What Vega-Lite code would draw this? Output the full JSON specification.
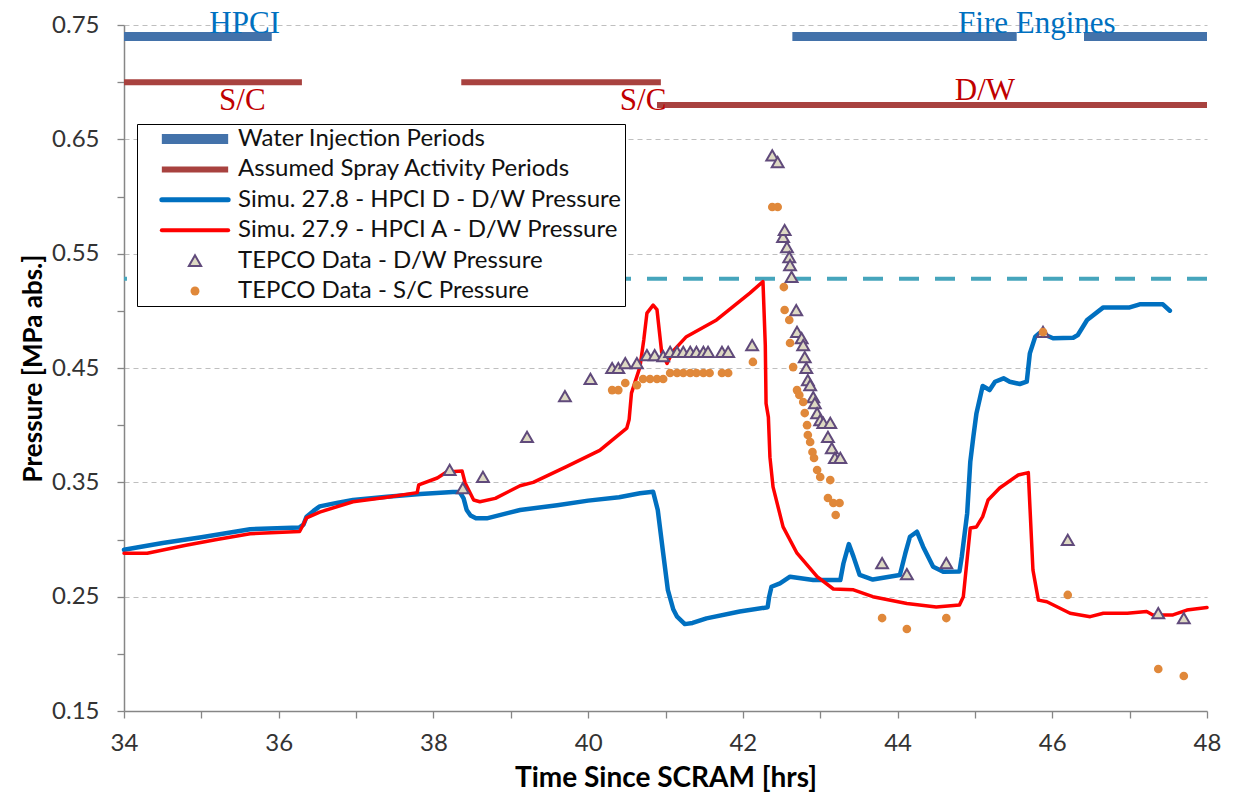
{
  "$schema": "https://vega.github.io/schema/vega-lite/v6.json",
  "width": 1083,
  "height": 686,
  "autosize": {"type": "none"},
  "padding": {"left": 124, "top": 25, "right": 47, "bottom": 88},
  "background": "white",
  "datasets": {
    "periods": [
      {"series": "Water Injection Periods", "t": 34, "t2": 35.91, "p": 0.74},
      {"series": "Water Injection Periods", "t": 42.64, "t2": 45.54, "p": 0.74},
      {"series": "Water Injection Periods", "t": 46.41, "t2": 48, "p": 0.74},
      {"series": "Assumed Spray Activity Periods", "t": 34, "t2": 36.3, "p": 0.70},
      {"series": "Assumed Spray Activity Periods", "t": 38.36, "t2": 40.94, "p": 0.70},
      {"series": "Assumed Spray Activity Periods", "t": 40.89, "t2": 48, "p": 0.68}
    ],
    "sim": [
      {"series": "Simu. 27.8 - HPCI D - D/W Pressure", "t": 34.0, "p": 0.291},
      {"series": "Simu. 27.8 - HPCI D - D/W Pressure", "t": 34.5, "p": 0.297},
      {"series": "Simu. 27.8 - HPCI D - D/W Pressure", "t": 35.0, "p": 0.302},
      {"series": "Simu. 27.8 - HPCI D - D/W Pressure", "t": 35.63, "p": 0.309},
      {"series": "Simu. 27.8 - HPCI D - D/W Pressure", "t": 36.27, "p": 0.3106},
      {"series": "Simu. 27.8 - HPCI D - D/W Pressure", "t": 36.32, "p": 0.313},
      {"series": "Simu. 27.8 - HPCI D - D/W Pressure", "t": 36.36, "p": 0.32},
      {"series": "Simu. 27.8 - HPCI D - D/W Pressure", "t": 36.45, "p": 0.325},
      {"series": "Simu. 27.8 - HPCI D - D/W Pressure", "t": 36.53, "p": 0.329},
      {"series": "Simu. 27.8 - HPCI D - D/W Pressure", "t": 36.75, "p": 0.332},
      {"series": "Simu. 27.8 - HPCI D - D/W Pressure", "t": 36.96, "p": 0.3345},
      {"series": "Simu. 27.8 - HPCI D - D/W Pressure", "t": 37.4, "p": 0.3374},
      {"series": "Simu. 27.8 - HPCI D - D/W Pressure", "t": 37.83, "p": 0.3398},
      {"series": "Simu. 27.8 - HPCI D - D/W Pressure", "t": 38.25, "p": 0.3415},
      {"series": "Simu. 27.8 - HPCI D - D/W Pressure", "t": 38.34, "p": 0.3415},
      {"series": "Simu. 27.8 - HPCI D - D/W Pressure", "t": 38.39, "p": 0.336},
      {"series": "Simu. 27.8 - HPCI D - D/W Pressure", "t": 38.43, "p": 0.3258},
      {"series": "Simu. 27.8 - HPCI D - D/W Pressure", "t": 38.48, "p": 0.321},
      {"series": "Simu. 27.8 - HPCI D - D/W Pressure", "t": 38.55, "p": 0.3185},
      {"series": "Simu. 27.8 - HPCI D - D/W Pressure", "t": 38.69, "p": 0.3185},
      {"series": "Simu. 27.8 - HPCI D - D/W Pressure", "t": 39.12, "p": 0.3258},
      {"series": "Simu. 27.8 - HPCI D - D/W Pressure", "t": 39.6, "p": 0.33},
      {"series": "Simu. 27.8 - HPCI D - D/W Pressure", "t": 40.0, "p": 0.334},
      {"series": "Simu. 27.8 - HPCI D - D/W Pressure", "t": 40.4, "p": 0.337},
      {"series": "Simu. 27.8 - HPCI D - D/W Pressure", "t": 40.67, "p": 0.3404},
      {"series": "Simu. 27.8 - HPCI D - D/W Pressure", "t": 40.84, "p": 0.3418},
      {"series": "Simu. 27.8 - HPCI D - D/W Pressure", "t": 40.9, "p": 0.3258},
      {"series": "Simu. 27.8 - HPCI D - D/W Pressure", "t": 40.97, "p": 0.288},
      {"series": "Simu. 27.8 - HPCI D - D/W Pressure", "t": 41.03, "p": 0.256},
      {"series": "Simu. 27.8 - HPCI D - D/W Pressure", "t": 41.1, "p": 0.239},
      {"series": "Simu. 27.8 - HPCI D - D/W Pressure", "t": 41.15, "p": 0.2325},
      {"series": "Simu. 27.8 - HPCI D - D/W Pressure", "t": 41.25, "p": 0.226},
      {"series": "Simu. 27.8 - HPCI D - D/W Pressure", "t": 41.35, "p": 0.227},
      {"series": "Simu. 27.8 - HPCI D - D/W Pressure", "t": 41.53, "p": 0.231},
      {"series": "Simu. 27.8 - HPCI D - D/W Pressure", "t": 41.96, "p": 0.237},
      {"series": "Simu. 27.8 - HPCI D - D/W Pressure", "t": 42.32, "p": 0.2407},
      {"series": "Simu. 27.8 - HPCI D - D/W Pressure", "t": 42.34, "p": 0.25},
      {"series": "Simu. 27.8 - HPCI D - D/W Pressure", "t": 42.37, "p": 0.2587},
      {"series": "Simu. 27.8 - HPCI D - D/W Pressure", "t": 42.48, "p": 0.2617},
      {"series": "Simu. 27.8 - HPCI D - D/W Pressure", "t": 42.61, "p": 0.2675},
      {"series": "Simu. 27.8 - HPCI D - D/W Pressure", "t": 42.91, "p": 0.2646},
      {"series": "Simu. 27.8 - HPCI D - D/W Pressure", "t": 43.26, "p": 0.2646},
      {"series": "Simu. 27.8 - HPCI D - D/W Pressure", "t": 43.3, "p": 0.279},
      {"series": "Simu. 27.8 - HPCI D - D/W Pressure", "t": 43.37, "p": 0.296},
      {"series": "Simu. 27.8 - HPCI D - D/W Pressure", "t": 43.43, "p": 0.285},
      {"series": "Simu. 27.8 - HPCI D - D/W Pressure", "t": 43.51, "p": 0.269},
      {"series": "Simu. 27.8 - HPCI D - D/W Pressure", "t": 43.68, "p": 0.265},
      {"series": "Simu. 27.8 - HPCI D - D/W Pressure", "t": 44.03, "p": 0.269},
      {"series": "Simu. 27.8 - HPCI D - D/W Pressure", "t": 44.1, "p": 0.2878},
      {"series": "Simu. 27.8 - HPCI D - D/W Pressure", "t": 44.16, "p": 0.3024},
      {"series": "Simu. 27.8 - HPCI D - D/W Pressure", "t": 44.25, "p": 0.3068},
      {"series": "Simu. 27.8 - HPCI D - D/W Pressure", "t": 44.33, "p": 0.2937},
      {"series": "Simu. 27.8 - HPCI D - D/W Pressure", "t": 44.46, "p": 0.2762},
      {"series": "Simu. 27.8 - HPCI D - D/W Pressure", "t": 44.59, "p": 0.2718},
      {"series": "Simu. 27.8 - HPCI D - D/W Pressure", "t": 44.8, "p": 0.272},
      {"series": "Simu. 27.8 - HPCI D - D/W Pressure", "t": 44.83, "p": 0.285},
      {"series": "Simu. 27.8 - HPCI D - D/W Pressure", "t": 44.9, "p": 0.323},
      {"series": "Simu. 27.8 - HPCI D - D/W Pressure", "t": 44.94, "p": 0.368},
      {"series": "Simu. 27.8 - HPCI D - D/W Pressure", "t": 44.98, "p": 0.39},
      {"series": "Simu. 27.8 - HPCI D - D/W Pressure", "t": 45.02, "p": 0.4105},
      {"series": "Simu. 27.8 - HPCI D - D/W Pressure", "t": 45.1, "p": 0.4342},
      {"series": "Simu. 27.8 - HPCI D - D/W Pressure", "t": 45.19, "p": 0.4307},
      {"series": "Simu. 27.8 - HPCI D - D/W Pressure", "t": 45.26, "p": 0.438},
      {"series": "Simu. 27.8 - HPCI D - D/W Pressure", "t": 45.37, "p": 0.441},
      {"series": "Simu. 27.8 - HPCI D - D/W Pressure", "t": 45.45, "p": 0.438},
      {"series": "Simu. 27.8 - HPCI D - D/W Pressure", "t": 45.58, "p": 0.436},
      {"series": "Simu. 27.8 - HPCI D - D/W Pressure", "t": 45.67, "p": 0.438},
      {"series": "Simu. 27.8 - HPCI D - D/W Pressure", "t": 45.71, "p": 0.4628},
      {"series": "Simu. 27.8 - HPCI D - D/W Pressure", "t": 45.78, "p": 0.4774},
      {"series": "Simu. 27.8 - HPCI D - D/W Pressure", "t": 45.84, "p": 0.4809},
      {"series": "Simu. 27.8 - HPCI D - D/W Pressure", "t": 46.01, "p": 0.476},
      {"series": "Simu. 27.8 - HPCI D - D/W Pressure", "t": 46.27, "p": 0.4765},
      {"series": "Simu. 27.8 - HPCI D - D/W Pressure", "t": 46.33, "p": 0.4789},
      {"series": "Simu. 27.8 - HPCI D - D/W Pressure", "t": 46.45, "p": 0.492},
      {"series": "Simu. 27.8 - HPCI D - D/W Pressure", "t": 46.66, "p": 0.503},
      {"series": "Simu. 27.8 - HPCI D - D/W Pressure", "t": 47.0, "p": 0.503},
      {"series": "Simu. 27.8 - HPCI D - D/W Pressure", "t": 47.13, "p": 0.5057},
      {"series": "Simu. 27.8 - HPCI D - D/W Pressure", "t": 47.43, "p": 0.5057},
      {"series": "Simu. 27.8 - HPCI D - D/W Pressure", "t": 47.52, "p": 0.5001},
      {"series": "Simu. 27.9 - HPCI A - D/W Pressure", "t": 34.0, "p": 0.288},
      {"series": "Simu. 27.9 - HPCI A - D/W Pressure", "t": 34.3, "p": 0.288},
      {"series": "Simu. 27.9 - HPCI A - D/W Pressure", "t": 34.8, "p": 0.295},
      {"series": "Simu. 27.9 - HPCI A - D/W Pressure", "t": 35.2, "p": 0.3},
      {"series": "Simu. 27.9 - HPCI A - D/W Pressure", "t": 35.63, "p": 0.305},
      {"series": "Simu. 27.9 - HPCI A - D/W Pressure", "t": 36.27, "p": 0.307},
      {"series": "Simu. 27.9 - HPCI A - D/W Pressure", "t": 36.31, "p": 0.312},
      {"series": "Simu. 27.9 - HPCI A - D/W Pressure", "t": 36.36, "p": 0.319},
      {"series": "Simu. 27.9 - HPCI A - D/W Pressure", "t": 36.53, "p": 0.324},
      {"series": "Simu. 27.9 - HPCI A - D/W Pressure", "t": 36.96, "p": 0.333},
      {"series": "Simu. 27.9 - HPCI A - D/W Pressure", "t": 37.4, "p": 0.337},
      {"series": "Simu. 27.9 - HPCI A - D/W Pressure", "t": 37.79, "p": 0.341},
      {"series": "Simu. 27.9 - HPCI A - D/W Pressure", "t": 37.81, "p": 0.3477},
      {"series": "Simu. 27.9 - HPCI A - D/W Pressure", "t": 38.05, "p": 0.3538},
      {"series": "Simu. 27.9 - HPCI A - D/W Pressure", "t": 38.17, "p": 0.359},
      {"series": "Simu. 27.9 - HPCI A - D/W Pressure", "t": 38.37, "p": 0.36},
      {"series": "Simu. 27.9 - HPCI A - D/W Pressure", "t": 38.41, "p": 0.3494},
      {"series": "Simu. 27.9 - HPCI A - D/W Pressure", "t": 38.52, "p": 0.3345},
      {"series": "Simu. 27.9 - HPCI A - D/W Pressure", "t": 38.6, "p": 0.333},
      {"series": "Simu. 27.9 - HPCI A - D/W Pressure", "t": 38.8, "p": 0.336},
      {"series": "Simu. 27.9 - HPCI A - D/W Pressure", "t": 39.12, "p": 0.347},
      {"series": "Simu. 27.9 - HPCI A - D/W Pressure", "t": 39.29, "p": 0.35},
      {"series": "Simu. 27.9 - HPCI A - D/W Pressure", "t": 39.72, "p": 0.3637},
      {"series": "Simu. 27.9 - HPCI A - D/W Pressure", "t": 40.15, "p": 0.378},
      {"series": "Simu. 27.9 - HPCI A - D/W Pressure", "t": 40.5, "p": 0.3975},
      {"series": "Simu. 27.9 - HPCI A - D/W Pressure", "t": 40.53, "p": 0.405},
      {"series": "Simu. 27.9 - HPCI A - D/W Pressure", "t": 40.56, "p": 0.428},
      {"series": "Simu. 27.9 - HPCI A - D/W Pressure", "t": 40.67, "p": 0.451},
      {"series": "Simu. 27.9 - HPCI A - D/W Pressure", "t": 40.72, "p": 0.475},
      {"series": "Simu. 27.9 - HPCI A - D/W Pressure", "t": 40.76, "p": 0.498},
      {"series": "Simu. 27.9 - HPCI A - D/W Pressure", "t": 40.84, "p": 0.505},
      {"series": "Simu. 27.9 - HPCI A - D/W Pressure", "t": 40.89, "p": 0.501},
      {"series": "Simu. 27.9 - HPCI A - D/W Pressure", "t": 40.95, "p": 0.464},
      {"series": "Simu. 27.9 - HPCI A - D/W Pressure", "t": 41.02, "p": 0.454},
      {"series": "Simu. 27.9 - HPCI A - D/W Pressure", "t": 41.1, "p": 0.465},
      {"series": "Simu. 27.9 - HPCI A - D/W Pressure", "t": 41.27, "p": 0.4774},
      {"series": "Simu. 27.9 - HPCI A - D/W Pressure", "t": 41.66, "p": 0.492},
      {"series": "Simu. 27.9 - HPCI A - D/W Pressure", "t": 42.09, "p": 0.5155},
      {"series": "Simu. 27.9 - HPCI A - D/W Pressure", "t": 42.26, "p": 0.5255},
      {"series": "Simu. 27.9 - HPCI A - D/W Pressure", "t": 42.29, "p": 0.47},
      {"series": "Simu. 27.9 - HPCI A - D/W Pressure", "t": 42.3, "p": 0.419},
      {"series": "Simu. 27.9 - HPCI A - D/W Pressure", "t": 42.33, "p": 0.407},
      {"series": "Simu. 27.9 - HPCI A - D/W Pressure", "t": 42.35, "p": 0.372},
      {"series": "Simu. 27.9 - HPCI A - D/W Pressure", "t": 42.39, "p": 0.346},
      {"series": "Simu. 27.9 - HPCI A - D/W Pressure", "t": 42.52, "p": 0.311},
      {"series": "Simu. 27.9 - HPCI A - D/W Pressure", "t": 42.7, "p": 0.288},
      {"series": "Simu. 27.9 - HPCI A - D/W Pressure", "t": 42.96, "p": 0.2675},
      {"series": "Simu. 27.9 - HPCI A - D/W Pressure", "t": 43.17, "p": 0.2567},
      {"series": "Simu. 27.9 - HPCI A - D/W Pressure", "t": 43.43, "p": 0.256},
      {"series": "Simu. 27.9 - HPCI A - D/W Pressure", "t": 43.68, "p": 0.25},
      {"series": "Simu. 27.9 - HPCI A - D/W Pressure", "t": 44.12, "p": 0.244},
      {"series": "Simu. 27.9 - HPCI A - D/W Pressure", "t": 44.5, "p": 0.241},
      {"series": "Simu. 27.9 - HPCI A - D/W Pressure", "t": 44.8, "p": 0.2427},
      {"series": "Simu. 27.9 - HPCI A - D/W Pressure", "t": 44.85, "p": 0.25},
      {"series": "Simu. 27.9 - HPCI A - D/W Pressure", "t": 44.94, "p": 0.31},
      {"series": "Simu. 27.9 - HPCI A - D/W Pressure", "t": 45.02, "p": 0.311},
      {"series": "Simu. 27.9 - HPCI A - D/W Pressure", "t": 45.1, "p": 0.32},
      {"series": "Simu. 27.9 - HPCI A - D/W Pressure", "t": 45.17, "p": 0.3345},
      {"series": "Simu. 27.9 - HPCI A - D/W Pressure", "t": 45.32, "p": 0.345},
      {"series": "Simu. 27.9 - HPCI A - D/W Pressure", "t": 45.56, "p": 0.3564},
      {"series": "Simu. 27.9 - HPCI A - D/W Pressure", "t": 45.69, "p": 0.3585},
      {"series": "Simu. 27.9 - HPCI A - D/W Pressure", "t": 45.75, "p": 0.2733},
      {"series": "Simu. 27.9 - HPCI A - D/W Pressure", "t": 45.82, "p": 0.247},
      {"series": "Simu. 27.9 - HPCI A - D/W Pressure", "t": 45.93, "p": 0.2456},
      {"series": "Simu. 27.9 - HPCI A - D/W Pressure", "t": 46.23, "p": 0.2355},
      {"series": "Simu. 27.9 - HPCI A - D/W Pressure", "t": 46.49, "p": 0.2325},
      {"series": "Simu. 27.9 - HPCI A - D/W Pressure", "t": 46.66, "p": 0.2355},
      {"series": "Simu. 27.9 - HPCI A - D/W Pressure", "t": 46.97, "p": 0.2355},
      {"series": "Simu. 27.9 - HPCI A - D/W Pressure", "t": 47.22, "p": 0.237},
      {"series": "Simu. 27.9 - HPCI A - D/W Pressure", "t": 47.3, "p": 0.234},
      {"series": "Simu. 27.9 - HPCI A - D/W Pressure", "t": 47.56, "p": 0.234},
      {"series": "Simu. 27.9 - HPCI A - D/W Pressure", "t": 47.74, "p": 0.2383},
      {"series": "Simu. 27.9 - HPCI A - D/W Pressure", "t": 48.0, "p": 0.2405}
    ],
    "tepco": [
      {"series": "TEPCO Data - D/W Pressure", "t": 38.21, "p": 0.3608},
      {"series": "TEPCO Data - D/W Pressure", "t": 38.38, "p": 0.345},
      {"series": "TEPCO Data - D/W Pressure", "t": 38.64, "p": 0.3547},
      {"series": "TEPCO Data - D/W Pressure", "t": 39.21, "p": 0.3897},
      {"series": "TEPCO Data - D/W Pressure", "t": 39.7, "p": 0.4255},
      {"series": "TEPCO Data - D/W Pressure", "t": 40.03, "p": 0.4404},
      {"series": "TEPCO Data - D/W Pressure", "t": 40.31, "p": 0.45},
      {"series": "TEPCO Data - D/W Pressure", "t": 40.39, "p": 0.45},
      {"series": "TEPCO Data - D/W Pressure", "t": 40.48, "p": 0.4543},
      {"series": "TEPCO Data - D/W Pressure", "t": 40.63, "p": 0.4543},
      {"series": "TEPCO Data - D/W Pressure", "t": 40.76, "p": 0.4613},
      {"series": "TEPCO Data - D/W Pressure", "t": 40.86, "p": 0.4613},
      {"series": "TEPCO Data - D/W Pressure", "t": 40.97, "p": 0.4604},
      {"series": "TEPCO Data - D/W Pressure", "t": 41.06, "p": 0.464},
      {"series": "TEPCO Data - D/W Pressure", "t": 41.15, "p": 0.464},
      {"series": "TEPCO Data - D/W Pressure", "t": 41.23, "p": 0.464},
      {"series": "TEPCO Data - D/W Pressure", "t": 41.32, "p": 0.464},
      {"series": "TEPCO Data - D/W Pressure", "t": 41.4, "p": 0.464},
      {"series": "TEPCO Data - D/W Pressure", "t": 41.49, "p": 0.464},
      {"series": "TEPCO Data - D/W Pressure", "t": 41.55, "p": 0.464},
      {"series": "TEPCO Data - D/W Pressure", "t": 41.73, "p": 0.464},
      {"series": "TEPCO Data - D/W Pressure", "t": 41.81, "p": 0.464},
      {"series": "TEPCO Data - D/W Pressure", "t": 42.12, "p": 0.47},
      {"series": "TEPCO Data - D/W Pressure", "t": 42.38, "p": 0.636},
      {"series": "TEPCO Data - D/W Pressure", "t": 42.45, "p": 0.63},
      {"series": "TEPCO Data - D/W Pressure", "t": 42.52, "p": 0.5646},
      {"series": "TEPCO Data - D/W Pressure", "t": 42.54, "p": 0.5707},
      {"series": "TEPCO Data - D/W Pressure", "t": 42.57, "p": 0.5558},
      {"series": "TEPCO Data - D/W Pressure", "t": 42.6, "p": 0.547},
      {"series": "TEPCO Data - D/W Pressure", "t": 42.61, "p": 0.54},
      {"series": "TEPCO Data - D/W Pressure", "t": 42.63, "p": 0.5296},
      {"series": "TEPCO Data - D/W Pressure", "t": 42.69, "p": 0.5007},
      {"series": "TEPCO Data - D/W Pressure", "t": 42.7, "p": 0.4815},
      {"series": "TEPCO Data - D/W Pressure", "t": 42.76, "p": 0.4762},
      {"series": "TEPCO Data - D/W Pressure", "t": 42.78, "p": 0.47},
      {"series": "TEPCO Data - D/W Pressure", "t": 42.8, "p": 0.4596},
      {"series": "TEPCO Data - D/W Pressure", "t": 42.82, "p": 0.45},
      {"series": "TEPCO Data - D/W Pressure", "t": 42.84, "p": 0.4395},
      {"series": "TEPCO Data - D/W Pressure", "t": 42.87, "p": 0.435},
      {"series": "TEPCO Data - D/W Pressure", "t": 42.91, "p": 0.4246},
      {"series": "TEPCO Data - D/W Pressure", "t": 42.93, "p": 0.4193},
      {"series": "TEPCO Data - D/W Pressure", "t": 42.96, "p": 0.4106},
      {"series": "TEPCO Data - D/W Pressure", "t": 43.0, "p": 0.4045},
      {"series": "TEPCO Data - D/W Pressure", "t": 43.04, "p": 0.4019},
      {"series": "TEPCO Data - D/W Pressure", "t": 43.13, "p": 0.4019},
      {"series": "TEPCO Data - D/W Pressure", "t": 43.1, "p": 0.3897},
      {"series": "TEPCO Data - D/W Pressure", "t": 43.15, "p": 0.38},
      {"series": "TEPCO Data - D/W Pressure", "t": 43.19, "p": 0.3713},
      {"series": "TEPCO Data - D/W Pressure", "t": 43.26, "p": 0.3713},
      {"series": "TEPCO Data - D/W Pressure", "t": 43.8, "p": 0.2794},
      {"series": "TEPCO Data - D/W Pressure", "t": 44.12, "p": 0.2697},
      {"series": "TEPCO Data - D/W Pressure", "t": 44.63, "p": 0.2794},
      {"series": "TEPCO Data - D/W Pressure", "t": 45.88, "p": 0.4815},
      {"series": "TEPCO Data - D/W Pressure", "t": 46.2, "p": 0.2996},
      {"series": "TEPCO Data - D/W Pressure", "t": 47.37, "p": 0.2357},
      {"series": "TEPCO Data - D/W Pressure", "t": 47.7, "p": 0.2313},
      {"series": "TEPCO Data - S/C Pressure", "t": 40.31, "p": 0.4307},
      {"series": "TEPCO Data - S/C Pressure", "t": 40.39, "p": 0.4307},
      {"series": "TEPCO Data - S/C Pressure", "t": 40.48, "p": 0.4369},
      {"series": "TEPCO Data - S/C Pressure", "t": 40.63, "p": 0.435},
      {"series": "TEPCO Data - S/C Pressure", "t": 40.71, "p": 0.4404},
      {"series": "TEPCO Data - S/C Pressure", "t": 40.8, "p": 0.4404},
      {"series": "TEPCO Data - S/C Pressure", "t": 40.89, "p": 0.4404},
      {"series": "TEPCO Data - S/C Pressure", "t": 40.97, "p": 0.4404},
      {"series": "TEPCO Data - S/C Pressure", "t": 41.06, "p": 0.4456},
      {"series": "TEPCO Data - S/C Pressure", "t": 41.15, "p": 0.4456},
      {"series": "TEPCO Data - S/C Pressure", "t": 41.23, "p": 0.4456},
      {"series": "TEPCO Data - S/C Pressure", "t": 41.32, "p": 0.4456},
      {"series": "TEPCO Data - S/C Pressure", "t": 41.4, "p": 0.4456},
      {"series": "TEPCO Data - S/C Pressure", "t": 41.49, "p": 0.4456},
      {"series": "TEPCO Data - S/C Pressure", "t": 41.57, "p": 0.4456},
      {"series": "TEPCO Data - S/C Pressure", "t": 41.73, "p": 0.4456},
      {"series": "TEPCO Data - S/C Pressure", "t": 41.81, "p": 0.4456},
      {"series": "TEPCO Data - S/C Pressure", "t": 42.13, "p": 0.4553},
      {"series": "TEPCO Data - S/C Pressure", "t": 42.38, "p": 0.5908},
      {"series": "TEPCO Data - S/C Pressure", "t": 42.45, "p": 0.5908},
      {"series": "TEPCO Data - S/C Pressure", "t": 42.53, "p": 0.5208},
      {"series": "TEPCO Data - S/C Pressure", "t": 42.54, "p": 0.5007},
      {"series": "TEPCO Data - S/C Pressure", "t": 42.6, "p": 0.492},
      {"series": "TEPCO Data - S/C Pressure", "t": 42.61, "p": 0.4719},
      {"series": "TEPCO Data - S/C Pressure", "t": 42.65, "p": 0.4508},
      {"series": "TEPCO Data - S/C Pressure", "t": 42.7, "p": 0.4307},
      {"series": "TEPCO Data - S/C Pressure", "t": 42.73, "p": 0.4264},
      {"series": "TEPCO Data - S/C Pressure", "t": 42.78, "p": 0.4203},
      {"series": "TEPCO Data - S/C Pressure", "t": 42.8, "p": 0.4106},
      {"series": "TEPCO Data - S/C Pressure", "t": 42.83, "p": 0.4},
      {"series": "TEPCO Data - S/C Pressure", "t": 42.84, "p": 0.3914},
      {"series": "TEPCO Data - S/C Pressure", "t": 42.87, "p": 0.3853},
      {"series": "TEPCO Data - S/C Pressure", "t": 42.9, "p": 0.3765},
      {"series": "TEPCO Data - S/C Pressure", "t": 42.92, "p": 0.3713},
      {"series": "TEPCO Data - S/C Pressure", "t": 42.96, "p": 0.3608},
      {"series": "TEPCO Data - S/C Pressure", "t": 43.0, "p": 0.3547},
      {"series": "TEPCO Data - S/C Pressure", "t": 43.13, "p": 0.352},
      {"series": "TEPCO Data - S/C Pressure", "t": 43.1, "p": 0.3363},
      {"series": "TEPCO Data - S/C Pressure", "t": 43.17, "p": 0.3319},
      {"series": "TEPCO Data - S/C Pressure", "t": 43.25, "p": 0.3319},
      {"series": "TEPCO Data - S/C Pressure", "t": 43.2, "p": 0.3214},
      {"series": "TEPCO Data - S/C Pressure", "t": 43.8, "p": 0.2313},
      {"series": "TEPCO Data - S/C Pressure", "t": 44.12, "p": 0.2217},
      {"series": "TEPCO Data - S/C Pressure", "t": 44.63, "p": 0.2313},
      {"series": "TEPCO Data - S/C Pressure", "t": 45.88, "p": 0.4815},
      {"series": "TEPCO Data - S/C Pressure", "t": 46.2, "p": 0.2515},
      {"series": "TEPCO Data - S/C Pressure", "t": 47.37, "p": 0.1867},
      {"series": "TEPCO Data - S/C Pressure", "t": 47.7, "p": 0.1806}
    ],
    "notes": [
      {"label": "HPCI", "kind": "injection", "t": 35.56, "p": 0.743},
      {"label": "Fire Engines", "kind": "injection", "t": 45.8, "p": 0.743},
      {"label": "S/C", "kind": "spray", "t": 35.53, "p": 0.6756},
      {"label": "S/C", "kind": "spray", "t": 40.71, "p": 0.6756},
      {"label": "D/W", "kind": "spray", "t": 45.13, "p": 0.6844}
    ]
  },
  "layer": [
    {
      "data": {"name": "periods"},
      "transform": [{"filter": "datum.series === 'Water Injection Periods'"}],
      "mark": {"type": "rule", "strokeWidth": 9, "strokeCap": "butt"},
      "encoding": {
        "x": {
          "field": "t", "type": "quantitative",
          "scale": {"domain": [34, 48], "nice": false, "zero": false},
          "axis": {
            "title": "Time Since SCRAM [hrs]",
            "values": [34, 34.5, 35, 35.5, 36, 36.5, 37, 37.5, 38, 38.5, 39, 39.5, 40, 40.5, 41, 41.5, 42, 42.5, 43, 43.5, 44, 44.5, 45, 45.5, 46, 46.5, 47, 47.5, 48],
            "format": ".0f",
            "labelExpr": "datum.value % 2 === 0 ? datum.label : ''",
            "labelOverlap": false,
            "labelFlush": false,
            "grid": false,
            "domainColor": "#868686",
            "domainWidth": 1.5,
            "tickColor": "#868686",
            "tickWidth": 1.3,
            "tickSize": 7,
            "labelFont": "Lato",
            "labelFontSize": 24,
            "labelColor": "#333333",
            "labelPadding": 13,
            "titleFont": "Lato",
            "titleFontSize": 28,
            "titleFontWeight": "bold",
            "titleColor": "#000000",
            "titlePadding": 9,
            "encode": {"ticks": {"update": {"y": {"value": -7}, "y2": {"signal": "datum.value % 2 === 0 ? 7 : 0"}}}}
          }
        },
        "x2": {"field": "t2"},
        "y": {
          "field": "p", "type": "quantitative",
          "scale": {"domain": [0.15, 0.75], "nice": false, "zero": false},
          "axis": {
            "title": "Pressure [MPa abs.]",
            "values": [0.15, 0.175, 0.2, 0.225, 0.25, 0.275, 0.3, 0.325, 0.35, 0.375, 0.4, 0.425, 0.45, 0.475, 0.5, 0.525, 0.55, 0.575, 0.6, 0.625, 0.65, 0.675, 0.7, 0.725, 0.75],
            "labelExpr": "round(datum.value * 40) % 4 === 2 ? format(datum.value, '.2f') : ''",
            "labelOverlap": false,
            "labelFlush": false,
            "grid": true,
            "gridColor": "#BFBFBF",
            "gridDash": [5, 4],
            "gridWidth": 1,
            "gridOpacity": {"condition": {"test": "round(datum.value * 40) % 4 === 2 && datum.value > 0.2", "value": 1}, "value": 0},
            "domainColor": "#868686",
            "domainWidth": 1.5,
            "tickColor": "#868686",
            "tickWidth": 1.3,
            "tickSize": 7,
            "labelFont": "Lato",
            "labelFontSize": 24,
            "labelColor": "#333333",
            "labelPadding": 18,
            "titleFont": "Lato",
            "titleFontSize": 26,
            "titleFontWeight": "bold",
            "titleColor": "#000000",
            "titlePadding": 5,
            "encode": {"ticks": {"update": {"x": {"signal": "round(datum.value * 40) % 4 === 2 ? -7 : 0"}, "x2": {"value": 7}}}}
          }
        },
        "stroke": {
          "field": "series", "type": "nominal",
          "scale": {
            "domain": ["Water Injection Periods", "Assumed Spray Activity Periods", "Simu. 27.8 - HPCI D - D/W Pressure", "Simu. 27.9 - HPCI A - D/W Pressure", "TEPCO Data - D/W Pressure", "TEPCO Data - S/C Pressure"],
            "range": ["#4372AA", "#A8423F", "#0070C0", "#FF0000", "#604A7B", "#E0883A"]
          },
          "legend": {
            "title": null,
            "orient": "none",
            "legendX": 13,
            "legendY": 99,
            "fillColor": "#FFFFFF",
            "strokeColor": "#000000",
            "padding": 3,
            "labelFont": "Lato",
            "labelFontSize": 24,
            "labelColor": "#111111",
            "labelLimit": 1000,
            "rowPadding": 6.4,
            "symbolSize": 100,
            "encode": {
              "symbols": {
                "update": {
                  "x": {"value": 55},
                  "y": {"value": 12},
                  "shape": {"signal": "datum.index === 0 ? 'M-1,-0.15H1V0.15H-1Z' : datum.index === 1 ? 'M-1,-0.09H1V0.09H-1Z' : datum.index < 4 ? 'stroke' : (datum.index === 4 ? 'triangle-up' : 'circle')"},
                  "size": {"signal": "datum.index < 4 ? 4400 : (datum.index === 4 ? 150 : 80)"},
                  "strokeWidth": {"signal": "[0, 0, 5, 4, 2, 0][datum.index]"},
                  "strokeCap": {"signal": "datum.index === 2 || datum.index === 3 ? 'round' : 'butt'"},
                  "fill": {"signal": "['#4372AA', '#A8423F', 'transparent', 'transparent', '#DDD9C3', '#E0883A'][datum.index]"},
                  "stroke": {"signal": "['#4372AA', '#A8423F', '#0070C0', '#FF0000', '#604A7B', '#E0883A'][datum.index]"},
                  "opacity": {"value": 1}
                }
              },
              "labels": {
                "update": {
                  "x": {"value": 98},
                  "y": {"value": 12},
                  "baseline": {"value": "middle"}
                }
              }
            }
          }
        }
      }
    },
    {
      "data": {"name": "periods"},
      "transform": [{"filter": "datum.series === 'Assumed Spray Activity Periods'"}],
      "mark": {"type": "rule", "strokeWidth": 6, "strokeCap": "butt"},
      "encoding": {
        "x": {"field": "t", "type": "quantitative", "scale": {"domain": [34, 48], "nice": false, "zero": false}},
        "x2": {"field": "t2"},
        "y": {"field": "p", "type": "quantitative", "scale": {"domain": [0.15, 0.75], "nice": false, "zero": false}},
        "stroke": {"field": "series", "type": "nominal"}
      }
    },
    {
      "data": {"values": [{"ref": 0.528}]},
      "mark": {"type": "rule", "stroke": "#46A5BC", "strokeWidth": 4, "strokeDash": [20, 16]},
      "encoding": {
        "y": {"field": "ref", "type": "quantitative", "scale": {"domain": [0.15, 0.75], "nice": false, "zero": false}}
      }
    },
    {
      "data": {"name": "sim"},
      "transform": [{"filter": "datum.series === 'Simu. 27.8 - HPCI D - D/W Pressure'"}],
      "mark": {"type": "line", "strokeWidth": 4.5, "strokeJoin": "round", "strokeCap": "round"},
      "encoding": {
        "x": {"field": "t", "type": "quantitative", "scale": {"domain": [34, 48], "nice": false, "zero": false}},
        "y": {"field": "p", "type": "quantitative", "scale": {"domain": [0.15, 0.75], "nice": false, "zero": false}},
        "stroke": {"field": "series", "type": "nominal"}
      }
    },
    {
      "data": {"name": "sim"},
      "transform": [{"filter": "datum.series === 'Simu. 27.9 - HPCI A - D/W Pressure'"}],
      "mark": {"type": "line", "strokeWidth": 3.5, "strokeJoin": "round", "strokeCap": "round"},
      "encoding": {
        "x": {"field": "t", "type": "quantitative", "scale": {"domain": [34, 48], "nice": false, "zero": false}},
        "y": {"field": "p", "type": "quantitative", "scale": {"domain": [0.15, 0.75], "nice": false, "zero": false}},
        "stroke": {"field": "series", "type": "nominal"}
      }
    },
    {
      "data": {"name": "tepco"},
      "transform": [{"filter": "datum.series === 'TEPCO Data - D/W Pressure'"}],
      "mark": {"type": "point", "shape": "triangle-up", "filled": true, "fill": "#DDD9C3", "size": 140, "strokeWidth": 2, "opacity": 1},
      "encoding": {
        "x": {"field": "t", "type": "quantitative", "scale": {"domain": [34, 48], "nice": false, "zero": false}},
        "y": {"field": "p", "type": "quantitative", "scale": {"domain": [0.15, 0.75], "nice": false, "zero": false}},
        "stroke": {"field": "series", "type": "nominal"}
      }
    },
    {
      "data": {"name": "tepco"},
      "transform": [{"filter": "datum.series === 'TEPCO Data - S/C Pressure'"}],
      "mark": {"type": "point", "shape": "circle", "filled": true, "fill": "#E0883A", "size": 75, "strokeWidth": 0, "opacity": 1},
      "encoding": {
        "x": {"field": "t", "type": "quantitative", "scale": {"domain": [34, 48], "nice": false, "zero": false}},
        "y": {"field": "p", "type": "quantitative", "scale": {"domain": [0.15, 0.75], "nice": false, "zero": false}},
        "stroke": {"field": "series", "type": "nominal"}
      }
    },
    {
      "data": {"name": "notes"},
      "transform": [{"filter": "datum.kind === 'injection'"}],
      "mark": {"type": "text", "font": "Liberation Serif", "fontSize": 31, "fill": "#0070C0", "align": "center", "baseline": "alphabetic"},
      "encoding": {
        "x": {"field": "t", "type": "quantitative", "scale": {"domain": [34, 48], "nice": false, "zero": false}},
        "y": {"field": "p", "type": "quantitative", "scale": {"domain": [0.15, 0.75], "nice": false, "zero": false}},
        "text": {"field": "label"}
      }
    },
    {
      "data": {"name": "notes"},
      "transform": [{"filter": "datum.kind === 'spray'"}],
      "mark": {"type": "text", "font": "Liberation Serif", "fontSize": 31, "fill": "#C00000", "align": "center", "baseline": "alphabetic"},
      "encoding": {
        "x": {"field": "t", "type": "quantitative", "scale": {"domain": [34, 48], "nice": false, "zero": false}},
        "y": {"field": "p", "type": "quantitative", "scale": {"domain": [0.15, 0.75], "nice": false, "zero": false}},
        "text": {"field": "label"}
      }
    }
  ],
  "config": {
    "view": {"stroke": null},
    "font": "Lato"
  }
}
